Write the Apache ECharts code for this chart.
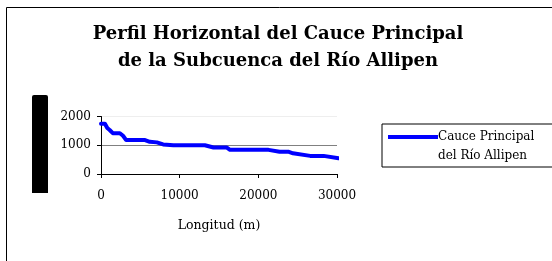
<!DOCTYPE html>
<html>
<head>
<meta charset="utf-8">
<script src="https://cdn.jsdelivr.net/npm/echarts@6/dist/echarts.min.js"></script>
<style>html,body{margin:0;padding:0;background:#fff}#c{width:552px;height:261px}</style>
</head>
<body>
<div id="c"></div>
<script>
const titleLines = ['Perfil Horizontal del Cauce Principal', 'de la Subcuenca del Río Allipen'];
const seriesName = 'Cauce Principal\ndel Río Allipen';
const xAxisName = 'Longitud (m)';
const distance = [0, 500, 800, 1100, 1500, 2400, 2800, 3200, 5600, 6200, 7100, 7900, 9200, 13200, 14300, 16000, 16400, 21300, 22700, 23800, 24400, 26600, 28300, 30200];
const elevation = [1750, 1750, 1600, 1530, 1420, 1420, 1330, 1180, 1180, 1120, 1100, 1030, 1000, 1000, 920, 920, 840, 840, 775, 775, 720, 630, 630, 550];
const xTicks = [0, 10000, 20000, 30000];
const yTicks = [0, 1000, 2000];

const serif = 'DejaVu Serif';
const chart = echarts.init(document.getElementById('c'), null, {renderer: 'canvas'});
chart.setOption({
  animation: false,
  backgroundColor: '#fff',
  textStyle: {fontFamily: serif},
  title: {
    text: titleLines.join('\n'),
    left: 273, top: 16, textAlign: 'center',
    textStyle: {fontFamily: serif, fontWeight: 'bold', fontSize: 18, lineHeight: 27, color: '#000'}
  },
  graphic: {
    elements: [
      {type: 'rect', shape: {x: 6.5, y: 7.5, width: 700, height: 400}, style: {fill: 'none', stroke: '#000', lineWidth: 1}, z: 0},
      {type: 'rect', shape: {x: 32, y: 95, width: 16, height: 98, r: [2, 2, 0, 0]}, style: {fill: '#000'}, z: 5}
    ]
  },
  legend: {
    left: 382, top: 124,
    orient: 'vertical',
    padding: [3, 90, 2, 6],
    borderColor: '#000', borderWidth: 1,
    itemWidth: 50, itemHeight: 22,
    icon: 'path://M0,0H50V4H0Z M0,21.9H0.05V22H0Z',
    itemGap: 0,
    textStyle: {fontFamily: serif, fontSize: 12, color: '#000', lineHeight: 19, padding: [0, 0, 0, -5]},
    data: [seriesName]
  },
  grid: {left: 101, right: 215, top: 116.5, bottom: 87},
  xAxis: {
    type: 'value', min: xTicks[0], max: xTicks[xTicks.length - 1], interval: 10000,
    name: xAxisName, nameLocation: 'middle', nameGap: 45,
    nameTextStyle: {fontFamily: serif, fontSize: 12.5, color: '#000'},
    axisLine: {show: true, onZero: false, lineStyle: {color: '#000', width: 1}},
    axisTick: {show: true, inside: false, length: 4, lineStyle: {color: '#000'}},
    axisLabel: {margin: 16, fontFamily: serif, fontSize: 12, color: '#000', formatter: v => String(v)},
    splitLine: {show: false}
  },
  yAxis: {
    type: 'value', min: yTicks[0], max: yTicks[yTicks.length - 1], interval: 1000,
    axisLine: {show: true, lineStyle: {color: '#000', width: 1}},
    axisTick: {show: true, inside: false, length: 4, lineStyle: {color: '#000'}},
    axisLabel: {margin: 10, fontFamily: serif, fontSize: 12, color: '#000', formatter: v => String(v)},
    splitLine: {show: true, lineStyle: {color: ['#000', '#808080', '#eeeeee'], width: 1}}
  },
  series: [{
    name: seriesName,
    type: 'line',
    data: distance.map((d, i) => [d, elevation[i]]),
    showSymbol: false, symbol: 'none',
    clip: false,
    color: '#0000ff',
    lineStyle: {color: '#0000ff', width: 4, join: 'round', cap: 'round'}
  }]
});
</script>
</body>
</html>
